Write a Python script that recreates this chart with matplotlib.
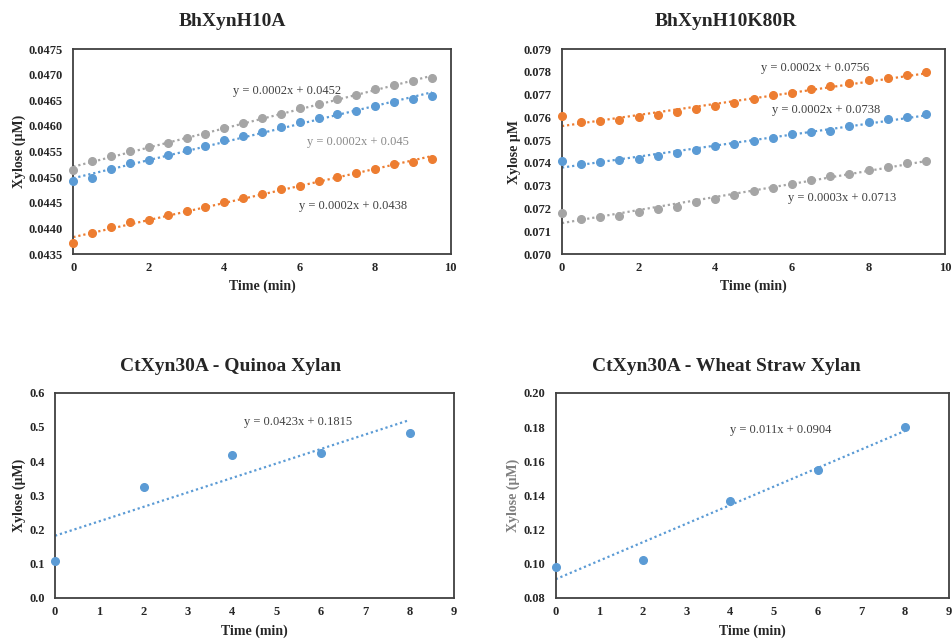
import matplotlib
matplotlib.use("Agg")
import matplotlib.pyplot as plt
import numpy as np

plt.rcParams['font.family'] = ['Liberation Serif', 'DejaVu Serif']

BLUE = '#5B9BD5'
ORANGE = '#ED7D31'
GREY = '#A5A5A5'

# BhXynH10A, sampled every 0.5 min
time_a = np.arange(0, 10, 0.5)
a_grey = [0.04514, 0.04531, 0.04541, 0.04551, 0.04558, 0.04567, 0.04576, 0.04584, 0.04596, 0.04605,
          0.04615, 0.04623, 0.04634, 0.04643, 0.04653, 0.04661, 0.04671, 0.04679, 0.04688, 0.04693]
a_blue = [0.04493, 0.04498, 0.04516, 0.04527, 0.04534, 0.04543, 0.04552, 0.04561, 0.04572, 0.04581,
          0.04588, 0.04598, 0.04607, 0.04615, 0.04624, 0.04629, 0.04638, 0.04647, 0.04653, 0.04659]
a_orange = [0.04372, 0.04391, 0.04402, 0.04412, 0.04416, 0.04426, 0.04433, 0.04442, 0.04452, 0.04459,
            0.04468, 0.04476, 0.04483, 0.04493, 0.04501, 0.04508, 0.04516, 0.04525, 0.04530, 0.04536]

# BhXynH10K80R
time_b = np.arange(0, 10, 0.5)
b_orange = [0.07604, 0.07581, 0.07583, 0.07589, 0.07601, 0.07610, 0.07622, 0.07635, 0.07651, 0.07663,
            0.07679, 0.07698, 0.07708, 0.07723, 0.07736, 0.07749, 0.07762, 0.07774, 0.07784, 0.07797]
b_blue = [0.07410, 0.07396, 0.07402, 0.07413, 0.07416, 0.07432, 0.07444, 0.07457, 0.07474, 0.07482,
          0.07498, 0.07509, 0.07525, 0.07535, 0.07542, 0.07560, 0.07579, 0.07594, 0.07601, 0.07613]
b_grey = [0.07179, 0.07152, 0.07161, 0.07169, 0.07183, 0.07199, 0.07208, 0.07227, 0.07243, 0.07260,
          0.07276, 0.07290, 0.07308, 0.07325, 0.07343, 0.07352, 0.07369, 0.07384, 0.07399, 0.07410]

# CtXyn30A
time_c = [0, 2, 4, 6, 8]
quinoa = [0.108, 0.323, 0.418, 0.424, 0.481]
wheat = [0.098, 0.102, 0.137, 0.155, 0.180]


def style_axes(ax, xlim, xticks, ylim, yticks, yfmt, ylabel, ylabel_x, xlabel_y,
               ylabel_color='#262626'):
    ax.set_xlim(*xlim)
    ax.set_ylim(*ylim)
    ax.set_xticks(xticks)
    ax.set_yticks(yticks)
    ax.set_yticklabels([yfmt.format(v) for v in yticks])
    ax.tick_params(length=0, labelsize=9, pad=6, colors='#262626')
    ax.tick_params(axis='y', pad=7.5)
    for lab in ax.get_xticklabels() + ax.get_yticklabels():
        lab.set_fontweight('bold')
    for sp in ax.spines.values():
        sp.set_color('#404040')
        sp.set_linewidth(1.3)
    ax.set_xlabel('Time (min)', fontsize=10, fontweight='bold', color='#262626')
    ax.xaxis.set_label_coords(0.5, xlabel_y)
    ax.set_ylabel(ylabel, fontsize=10, fontweight='bold', color=ylabel_color)
    ax.yaxis.set_label_coords(ylabel_x, 0.5)


def series(ax, x, y, color, x_end):
    ax.plot(x, y, 'o', color=color, markersize=5.5, zorder=3, clip_on=False)
    k, b = np.polyfit(x, y, 1)
    xs = np.array([x[0], x_end])
    ax.plot(xs, k * xs + b, color=color, lw=1.6, linestyle=(0, (1, 1.3)), zorder=2)


fig = plt.figure(figsize=(9.52, 6.39), dpi=100)

# panel 1
ax1 = fig.add_axes([0.0770, 0.6025, 0.3964, 0.3208])
series(ax1, time_a, a_grey, GREY, 9.5)
series(ax1, time_a, a_blue, BLUE, 9.5)
series(ax1, time_a, a_orange, ORANGE, 9.5)
style_axes(ax1, (0, 10), [0, 2, 4, 6, 8, 10], (0.0435, 0.0475),
           np.arange(0.0435, 0.04751, 0.0005), '{:.4f}', 'Xylose (µM)', -0.125, -0.125)
ax1.text(4.24, 0.04669, 'y = 0.0002x + 0.0452', fontsize=9, color='#404040', va='center')
ax1.text(6.20, 0.04568, 'y = 0.0002x + 0.045', fontsize=9, color='#8a8a8a', va='center')
ax1.text(5.98, 0.04443, 'y = 0.0002x + 0.0438', fontsize=9, color='#404040', va='center')
fig.text(232 / 952, 1 - 22 / 639, 'BhXynH10A', fontsize=14, fontweight='bold',
         ha='center', va='center', color='#262626')

# panel 2
ax2 = fig.add_axes([0.5903, 0.6025, 0.4026, 0.3208])
series(ax2, time_b, b_orange, ORANGE, 9.5)
series(ax2, time_b, b_blue, BLUE, 9.5)
series(ax2, time_b, b_grey, GREY, 9.5)
style_axes(ax2, (0, 10), [0, 2, 4, 6, 8, 10], (0.070, 0.079),
           np.arange(0.070, 0.07901, 0.001), '{:.3f}', 'Xylose µM', -0.107, -0.125)
ax2.text(5.19, 0.07817, 'y = 0.0002x + 0.0756', fontsize=9, color='#404040', va='center')
ax2.text(5.47, 0.07633, 'y = 0.0002x + 0.0738', fontsize=9, color='#404040', va='center')
ax2.text(5.89, 0.07245, 'y = 0.0003x + 0.0713', fontsize=9, color='#404040', va='center')
fig.text(726 / 952, 1 - 22 / 639, 'BhXynH10K80R', fontsize=14, fontweight='bold',
         ha='center', va='center', color='#262626')

# panel 3
ax3 = fig.add_axes([0.0578, 0.0646, 0.4191, 0.3208])
series(ax3, time_c, quinoa, BLUE, 8)
style_axes(ax3, (0, 9), range(10), (0, 0.6),
           np.arange(0, 0.601, 0.1), '{:.1f}', 'Xylose (µM)', -0.0725, -0.130)
ax3.text(4.27, 0.514, 'y = 0.0423x + 0.1815', fontsize=9, color='#404040', va='center')
fig.text(231 / 952, 1 - 366 / 639, 'CtXyn30A - Quinoa Xylan', fontsize=14, fontweight='bold',
         ha='center', va='center', color='#262626')

# panel 4
ax4 = fig.add_axes([0.5837, 0.0642, 0.4128, 0.3208])
series(ax4, time_c, wheat, BLUE, 8)
style_axes(ax4, (0, 9), range(10), (0.08, 0.20),
           np.arange(0.08, 0.2001, 0.02), '{:.2f}', 'Xylose (µM)', -0.090, -0.130,
           ylabel_color='#7f7f7f')
ax4.text(4.0, 0.1785, 'y = 0.011x + 0.0904', fontsize=9, color='#404040', va='center')
fig.text(726 / 952, 1 - 366 / 639, 'CtXyn30A - Wheat Straw Xylan', fontsize=14, fontweight='bold',
         ha='center', va='center', color='#262626')

fig.savefig('out.png', dpi=100)
